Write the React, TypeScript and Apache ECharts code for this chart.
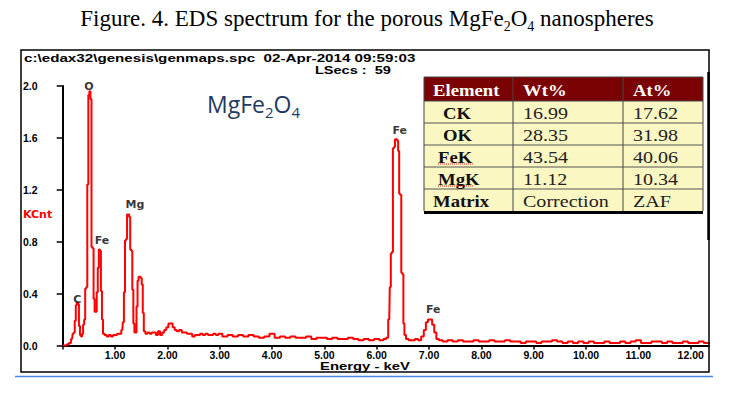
import React, { useEffect, useRef } from "react";
import * as echarts from "echarts";

// ---- Spectrum data (energy in keV, counts in KCnt) ----
const energyKeV = [
  0.0, 0.06, 0.1, 0.14, 0.18, 0.2, 0.22, 0.24, 0.26, 0.28, 0.3, 0.32, 0.34, 0.36, 0.38, 0.4,
  0.42, 0.44, 0.46, 0.48, 0.5, 0.52, 0.54, 0.56, 0.58, 0.6, 0.62, 0.64, 0.66, 0.68, 0.7, 0.72,
  0.74, 0.76, 0.78, 0.82, 0.86, 0.9, 0.94, 0.98, 1.02, 1.06, 1.1, 1.14, 1.16, 1.18, 1.2, 1.22,
  1.24, 1.26, 1.28, 1.3, 1.32, 1.34, 1.36, 1.38, 1.4, 1.42, 1.44, 1.46, 1.48, 1.5, 1.52, 1.54,
  1.56, 1.6, 1.64, 1.68, 1.72, 1.76, 1.8, 1.84, 1.88, 1.92, 1.96, 2.0, 2.04, 2.08, 2.12, 2.16,
  2.2, 2.25, 2.3, 2.35, 2.4, 2.45, 2.5, 2.55, 2.6, 2.65, 2.7, 2.75, 2.8, 2.85, 2.9, 2.95,
  3.0, 3.1, 3.2, 3.3, 3.4, 3.5, 3.6, 3.7, 3.8, 3.9, 4.0, 4.1, 4.2, 4.3, 4.4, 4.5,
  4.6, 4.7, 4.8, 4.9, 5.0, 5.1, 5.2, 5.3, 5.4, 5.5, 5.6, 5.7, 5.8, 5.9, 6.0, 6.1,
  6.16, 6.2, 6.24, 6.26, 6.28, 6.3, 6.32, 6.34, 6.36, 6.38, 6.4, 6.42, 6.44, 6.46, 6.48, 6.5,
  6.52, 6.54, 6.58, 6.64, 6.7, 6.76, 6.82, 6.88, 6.92, 6.96, 7.0, 7.04, 7.08, 7.12, 7.16, 7.22,
  7.3, 7.4, 7.5, 7.6, 7.7, 7.8, 7.9, 8.0, 8.1, 8.2, 8.3, 8.4, 8.5, 8.6, 8.7, 8.8,
  8.9, 9.0, 9.1, 9.2, 9.3, 9.4, 9.5, 9.6, 9.7, 9.8, 9.9, 10.0, 10.1, 10.2, 10.3, 10.4,
  10.5, 10.6, 10.7, 10.8, 10.9, 11.0, 11.1, 11.2, 11.3, 11.4, 11.5, 11.6, 11.7, 11.8, 11.9, 12.0,
  12.1, 12.2, 12.3, 12.4,
];
const kcnt = [
  0.0, 0.0, 0.01, 0.02, 0.05, 0.09, 0.1, 0.19, 0.31, 0.33, 0.32, 0.15, 0.08, 0.07, 0.09, 0.16,
  0.2, 0.44, 0.45, 1.24, 1.93, 1.96, 1.9, 0.76, 0.75, 0.36, 0.26, 0.26, 0.41, 0.6, 0.74, 0.73,
  0.42, 0.2, 0.09, 0.08, 0.07, 0.08, 0.07, 0.08, 0.08, 0.09, 0.09, 0.12, 0.18, 0.41, 0.81, 0.82,
  1.01, 1.01, 0.99, 0.74, 0.73, 0.43, 0.17, 0.1, 0.1, 0.3, 0.5, 0.53, 0.53, 0.52, 0.47, 0.25,
  0.11, 0.09, 0.1, 0.09, 0.1, 0.1, 0.08, 0.11, 0.08, 0.1, 0.12, 0.14, 0.17, 0.17, 0.14, 0.12,
  0.11, 0.12, 0.1, 0.1, 0.09, 0.09, 0.07, 0.08, 0.08, 0.09, 0.08, 0.09, 0.08, 0.08, 0.09, 0.08,
  0.09, 0.07, 0.08, 0.07, 0.08, 0.07, 0.08, 0.07, 0.06, 0.07, 0.09, 0.06, 0.07, 0.06, 0.07, 0.06,
  0.06, 0.07, 0.05, 0.06, 0.06, 0.05, 0.06, 0.05, 0.05, 0.06, 0.05, 0.04, 0.05, 0.04, 0.05, 0.04,
  0.05, 0.06, 0.2, 0.45, 0.71, 0.72, 1.52, 1.53, 1.59, 1.59, 1.58, 1.5, 1.17, 1.16, 0.56, 0.55,
  0.17, 0.08, 0.05, 0.04, 0.04, 0.05, 0.04, 0.07, 0.12, 0.18, 0.2, 0.2, 0.16, 0.1, 0.05, 0.04,
  0.03, 0.04, 0.03, 0.04, 0.03, 0.03, 0.04, 0.03, 0.03, 0.04, 0.03, 0.03, 0.04, 0.03, 0.03, 0.02,
  0.03, 0.03, 0.02, 0.03, 0.03, 0.04, 0.03, 0.02, 0.03, 0.02, 0.03, 0.02, 0.03, 0.02, 0.02, 0.03,
  0.02, 0.02, 0.03, 0.02, 0.03, 0.04, 0.02, 0.02, 0.03, 0.03, 0.02, 0.03, 0.02, 0.02, 0.03, 0.02,
  0.02, 0.03, 0.02, 0.02,
];

// ---- Peak labels ----
const peakNames = ["C", "O", "Fe", "Mg", "Fe", "Fe"];
const peakEnergy = [0.28, 0.5, 0.75, 1.38, 6.44, 7.08];
const peakCount = [0.358, 2.0, 0.808, 1.09, 1.655, 0.281];

// ---- Axes ----
const xMin = 0;
const xMax = 12.35;
const xInterval = 1;
const yMin = 0;
const yMax = 2.0;
const yInterval = 0.4;

// ---- Quantification table ----
const tableHeader = ["Element", "Wt%", "At%"];
const tableElements = ["CK", "OK", "FeK", "MgK", "Matrix"];
const tableWt = ["16.99", "28.35", "43.54", "11.12", "Correction"];
const tableAt = ["17.62", "31.98", "40.06", "10.34", "ZAF"];

const SERIF = "'Liberation Serif', 'Times New Roman', serif";
const SANS = "'Liberation Sans', Arial, sans-serif";
const WIDE = "'DejaVu Sans', Verdana, sans-serif";

function buildTable(): any[] {
  const els: any[] = [];
  const left = 424;
  const right = 703;
  const colX = [424, 513, 623, 703];
  const top = 77;
  const headH = 24;
  const rowH = 22;
  const nRows = tableElements.length;
  const bottom = top + headH + rowH * nRows;
  els.push({
    type: "rect",
    shape: { x: left, y: top, width: right - left, height: headH },
    style: { fill: "#7a0202" },
    z: 10,
  });
  els.push({
    type: "rect",
    shape: { x: left, y: top + headH, width: right - left, height: rowH * nRows },
    style: { fill: "#fbf7c2" },
    z: 10,
  });
  for (let r = 1; r < nRows; r++) {
    const y = top + headH + rowH * r;
    els.push({
      type: "line",
      shape: { x1: left, y1: y, x2: right, y2: y },
      style: { stroke: "#555", lineWidth: 1 },
      z: 11,
    });
  }
  colX.forEach((x) => {
    els.push({
      type: "line",
      shape: { x1: x, y1: top, x2: x, y2: bottom },
      style: { stroke: "#444", lineWidth: 1 },
      z: 11,
    });
  });
  els.push({
    type: "line",
    shape: { x1: left, y1: top, x2: right, y2: top },
    style: { stroke: "#444", lineWidth: 1 },
    z: 11,
  });
  els.push({
    type: "line",
    shape: { x1: left, y1: top + headH, x2: right, y2: top + headH },
    style: { stroke: "#444", lineWidth: 1 },
    z: 11,
  });
  els.push({
    type: "line",
    shape: { x1: left, y1: bottom + 1.5, x2: right, y2: bottom + 1.5 },
    style: { stroke: "#000", lineWidth: 3 },
    z: 11,
  });
  const txt = (s: string, x: number, y: number, bold: boolean, color: string) => ({
    type: "text",
    x,
    y,
    scaleX: bold ? 1.1 : 1.18,
    style: {
      text: s,
      fill: color,
      fontFamily: SERIF,
      fontSize: 17,
      fontWeight: bold ? "bold" : "normal",
      align: "left",
      verticalAlign: "middle",
      textAlign: "left",
      textVerticalAlign: "middle",
    },
    z: 12,
  });
  const hx = [433, 523, 633];
  tableHeader.forEach((h, i) => els.push(txt(h, hx[i], top + headH / 2 + 1, true, "#ffffff")));
  const elX = [443, 443, 438, 438, 433];
  for (let r = 0; r < nRows; r++) {
    const cy = top + headH + rowH * r + rowH / 2 + 1;
    els.push(txt(tableElements[r], elX[r], cy, true, "#111"));
    els.push(txt(tableWt[r], 523, cy, false, "#222"));
    els.push(txt(tableAt[r], 633, cy, false, "#222"));
  }
  [2, 3].forEach((r) => {
    const y = top + headH + rowH * r + rowH - 3;
    els.push({
      type: "line",
      shape: { x1: elX[r], y1: y, x2: elX[r] + 36, y2: y },
      style: { stroke: "#e02020", lineWidth: 1, lineDash: [1, 1] },
      z: 12,
    });
  });
  return els;
}

export default function App() {
  const ref = useRef<HTMLDivElement>(null);
  useEffect(() => {
    if (!ref.current) return;
    const chart = echarts.init(ref.current, undefined, { renderer: "svg" });
    const spectrum = energyKeV.map((e, i) => [e, kcnt[i]]);
    const labels = peakNames.map((n, i) => ({ name: n, value: [peakEnergy[i], peakCount[i]] }));

    const option: any = {
      animation: false,
      backgroundColor: "#ffffff",
      textStyle: { fontFamily: SANS },
      grid: {
        left: 62.7,
        right: 26,
        top: 86,
        bottom: 50.5,
        containLabel: false,
        outerBoundsMode: "none",
      },
      xAxis: {
        type: "value",
        min: xMin,
        max: xMax,
        interval: xInterval,
        axisLine: { show: true, lineStyle: { color: "#000", width: 2 } },
        axisTick: { show: true, length: 4, lineStyle: { color: "#000", width: 1.5 } },
        splitLine: { show: false },
        axisLabel: {
          margin: 4,
          color: "#000",
          fontFamily: SANS,
          fontWeight: "bold",
          fontSize: 10.5,
          showMaxLabel: false,
          formatter: (v: number) =>
            v > 0 && Math.abs(v - Math.round(v)) < 1e-6 ? v.toFixed(2) : "",
        },
      },
      yAxis: {
        type: "value",
        min: yMin,
        max: yMax,
        interval: yInterval,
        axisLine: { show: true, lineStyle: { color: "#000", width: 2 } },
        axisTick: { show: true, length: 6, lineStyle: { color: "#000", width: 1.5 } },
        splitLine: { show: false },
        axisLabel: {
          margin: 39.7,
          align: "left",
          color: "#000",
          fontFamily: SANS,
          fontWeight: "bold",
          fontSize: 10.5,
          formatter: (v: number) => v.toFixed(1),
        },
      },
      series: [
        {
          type: "line",
          data: spectrum,
          step: "middle",
          showSymbol: false,
          symbol: "none",
          lineStyle: { color: "#ff0000", width: 2 },
          z: 3,
        },
        {
          type: "scatter",
          data: labels,
          symbolSize: 1,
          clip: false,
          itemStyle: { color: "rgba(0,0,0,0)" },
          label: {
            show: true,
            position: "inside",
            formatter: (p: any) => p.name,
            color: "#000",
            fontFamily: WIDE,
            fontWeight: "bold",
            fontSize: 11,
          },
          z: 4,
        },
      ],
      graphic: [
        {
          type: "text",
          x: 367,
          y: 18,
          style: {
            text: "{a|Figure. 4. EDS spectrum for the porous MgFe}{s|2}{a|O}{s|4}{a| nanospheres}",
            rich: {
              a: { fontFamily: SERIF, fontSize: 23, lineHeight: 30, fill: "#000", verticalAlign: "middle" },
              s: { fontFamily: SERIF, fontSize: 14, lineHeight: 30, fill: "#000", verticalAlign: "bottom" },
            },
            align: "center",
            verticalAlign: "middle",
            textAlign: "center",
            textVerticalAlign: "middle",
          },
        },
        {
          type: "rect",
          shape: { x: 21, y: 50, width: 688, height: 322 },
          style: { fill: "none", stroke: "#000", lineWidth: 1.5 },
          z: 50,
        },
        {
          type: "rect",
          shape: { x: 710, y: 330, width: 25, height: 40 },
          style: { fill: "#ffffff" },
          z: 49,
        },
        {
          type: "line",
          shape: { x1: 708.5, y1: 72, x2: 708.5, y2: 240 },
          style: { stroke: "#000", lineWidth: 2.5 },
          z: 51,
        },
        {
          type: "line",
          shape: { x1: 15, y1: 376.5, x2: 713, y2: 376.5 },
          style: { stroke: "#4a86e8", lineWidth: 1.5 },
        },
        {
          type: "text",
          x: 24,
          y: 58,
          scaleX: 1.38,
          style: {
            text: "c:\\edax32\\genesis\\genmaps.spc  02-Apr-2014 09:59:03",
            fontFamily: SANS,
            fontWeight: "bold",
            fontSize: 11,
            fill: "#000",
            align: "left",
            verticalAlign: "middle",
            textAlign: "left",
            textVerticalAlign: "middle",
          },
        },
        {
          type: "text",
          x: 315,
          y: 70.5,
          scaleX: 1.32,
          style: {
            text: "LSecs :  59",
            fontFamily: SANS,
            fontWeight: "bold",
            fontSize: 11,
            fill: "#000",
            align: "left",
            verticalAlign: "middle",
            textAlign: "left",
            textVerticalAlign: "middle",
          },
        },
        {
          type: "text",
          x: 207,
          y: 104,
          style: {
            text: "{a|MgFe}{s|2}{a|O}{s|4}",
            rich: {
              a: { fontFamily: "'Open Sans', sans-serif", fontSize: 23, lineHeight: 30, fill: "#1f3a60", verticalAlign: "middle" },
              s: { fontFamily: "'Open Sans', sans-serif", fontSize: 15, lineHeight: 30, fill: "#1f3a60", verticalAlign: "bottom" },
            },
            align: "left",
            verticalAlign: "middle",
            textAlign: "left",
            textVerticalAlign: "middle",
          },
        },
        {
          type: "text",
          x: 23,
          y: 214,
          style: {
            text: "KCnt",
            fontFamily: WIDE,
            fontWeight: "bold",
            fontSize: 11,
            fill: "#ff0000",
            align: "left",
            verticalAlign: "middle",
            textAlign: "left",
            textVerticalAlign: "middle",
          },
        },
        {
          type: "text",
          x: 365,
          y: 366,
          scaleX: 1.35,
          style: {
            text: "Energy - keV",
            fontFamily: SANS,
            fontWeight: "bold",
            fontSize: 11,
            fill: "#000",
            align: "center",
            verticalAlign: "middle",
            textAlign: "center",
            textVerticalAlign: "middle",
          },
        },
        ...buildTable(),
      ],
    };
    chart.setOption(option);
    return () => chart.dispose();
  }, []);
  return (
    <div
      ref={ref}
      style={{ position: "absolute", left: 0, top: 0, width: 735, height: 396, background: "#fff" }}
    />
  );
}
